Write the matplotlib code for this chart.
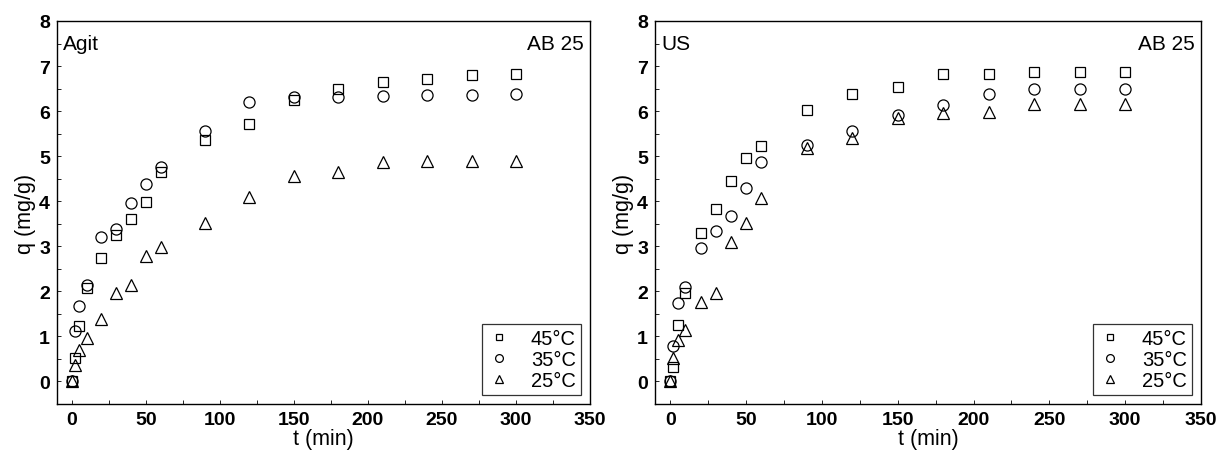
import numpy as np
import matplotlib.pyplot as plt
from matplotlib.ticker import MultipleLocator

plt.rcParams['font.family'] = ['Liberation Sans', 'DejaVu Sans']

# sampling times (min)
t = [0, 2, 5, 10, 20, 30, 40, 50, 60, 90, 120, 150, 180, 210, 240, 270, 300]

# mechanical agitation
agit_45 = [0, 0.52, 1.24, 2.08, 2.75, 3.24, 3.61, 3.98, 4.65, 5.36, 5.71, 6.25, 6.50, 6.64, 6.71, 6.81, 6.82]
agit_35 = [0, 1.12, 1.67, 2.14, 3.21, 3.39, 3.97, 4.38, 4.75, 5.56, 6.21, 6.31, 6.31, 6.33, 6.35, 6.36, 6.38]
agit_25 = [0, 0.36, 0.69, 0.97, 1.39, 1.97, 2.14, 2.79, 2.98, 3.52, 4.09, 4.55, 4.64, 4.87, 4.89, 4.89, 4.89]

# ultrasound
us_45 = [0, 0.33, 1.25, 1.96, 3.30, 3.82, 4.45, 4.97, 5.22, 6.03, 6.38, 6.54, 6.82, 6.83, 6.86, 6.87, 6.87]
us_35 = [0, 0.78, 1.74, 2.09, 2.97, 3.34, 3.68, 4.30, 4.87, 5.25, 5.56, 5.91, 6.13, 6.39, 6.48, 6.48, 6.48]
us_25 = [0, 0.51, 0.92, 1.14, 1.76, 1.97, 3.09, 3.51, 4.08, 5.18, 5.41, 5.84, 5.95, 5.97, 6.15, 6.15, 6.15]

temps = ['45°C', '35°C', '25°C']
markers = ['s', 'o', '^']
sizes = [7, 8, 8.5]

fig = plt.figure(figsize=(12.2, 4.52), dpi=100)
ax1 = fig.add_axes([57 / 1220, 1 - 405 / 452, 533 / 1220, 383 / 452])
ax2 = fig.add_axes([655 / 1220, 1 - 405 / 452, 546 / 1220, 383 / 452])


def panel(ax, series, tag):
    for q, lab, m, ms in zip(series, temps, markers, sizes):
        ax.plot(t, q, linestyle='none', marker=m, markersize=ms,
                markerfacecolor='none', markeredgecolor='black',
                markeredgewidth=0.9, label=lab)
    ax.set_xlim(-10, 350)
    ax.set_ylim(-0.5, 8)
    ax.xaxis.set_major_locator(MultipleLocator(50))
    ax.xaxis.set_minor_locator(MultipleLocator(25))
    ax.yaxis.set_major_locator(MultipleLocator(1))
    ax.yaxis.set_minor_locator(MultipleLocator(0.5))
    ax.tick_params(which='both', direction='in', length=3, width=0.6,
                   labelsize=14, pad=5)
    for lbl in ax.get_xticklabels() + ax.get_yticklabels():
        lbl.set_fontweight('bold')
    for s in ax.spines.values():
        s.set_linewidth(1.0)
    ax.set_xlabel('t (min)', fontsize=15.5, labelpad=0)
    ax.set_ylabel('q (mg/g)', fontsize=15.5, labelpad=2)
    ax.text(0.012, 0.965, tag, transform=ax.transAxes, fontsize=15,
            ha='left', va='top')
    ax.text(0.988, 0.965, 'AB 25', transform=ax.transAxes, fontsize=15,
            ha='right', va='top')
    leg = ax.legend(loc='lower right', fontsize=14.5, markerscale=0.7,
                    frameon=True, fancybox=False, edgecolor='black',
                    borderaxespad=0.45, handlelength=1.2, handletextpad=1.0,
                    labelspacing=0.1, borderpad=0.25)
    leg.get_frame().set_linewidth(0.9)


panel(ax1, [agit_45, agit_35, agit_25], 'Agit')
panel(ax2, [us_45, us_35, us_25], 'US')

fig.savefig('out.png', dpi=100)
